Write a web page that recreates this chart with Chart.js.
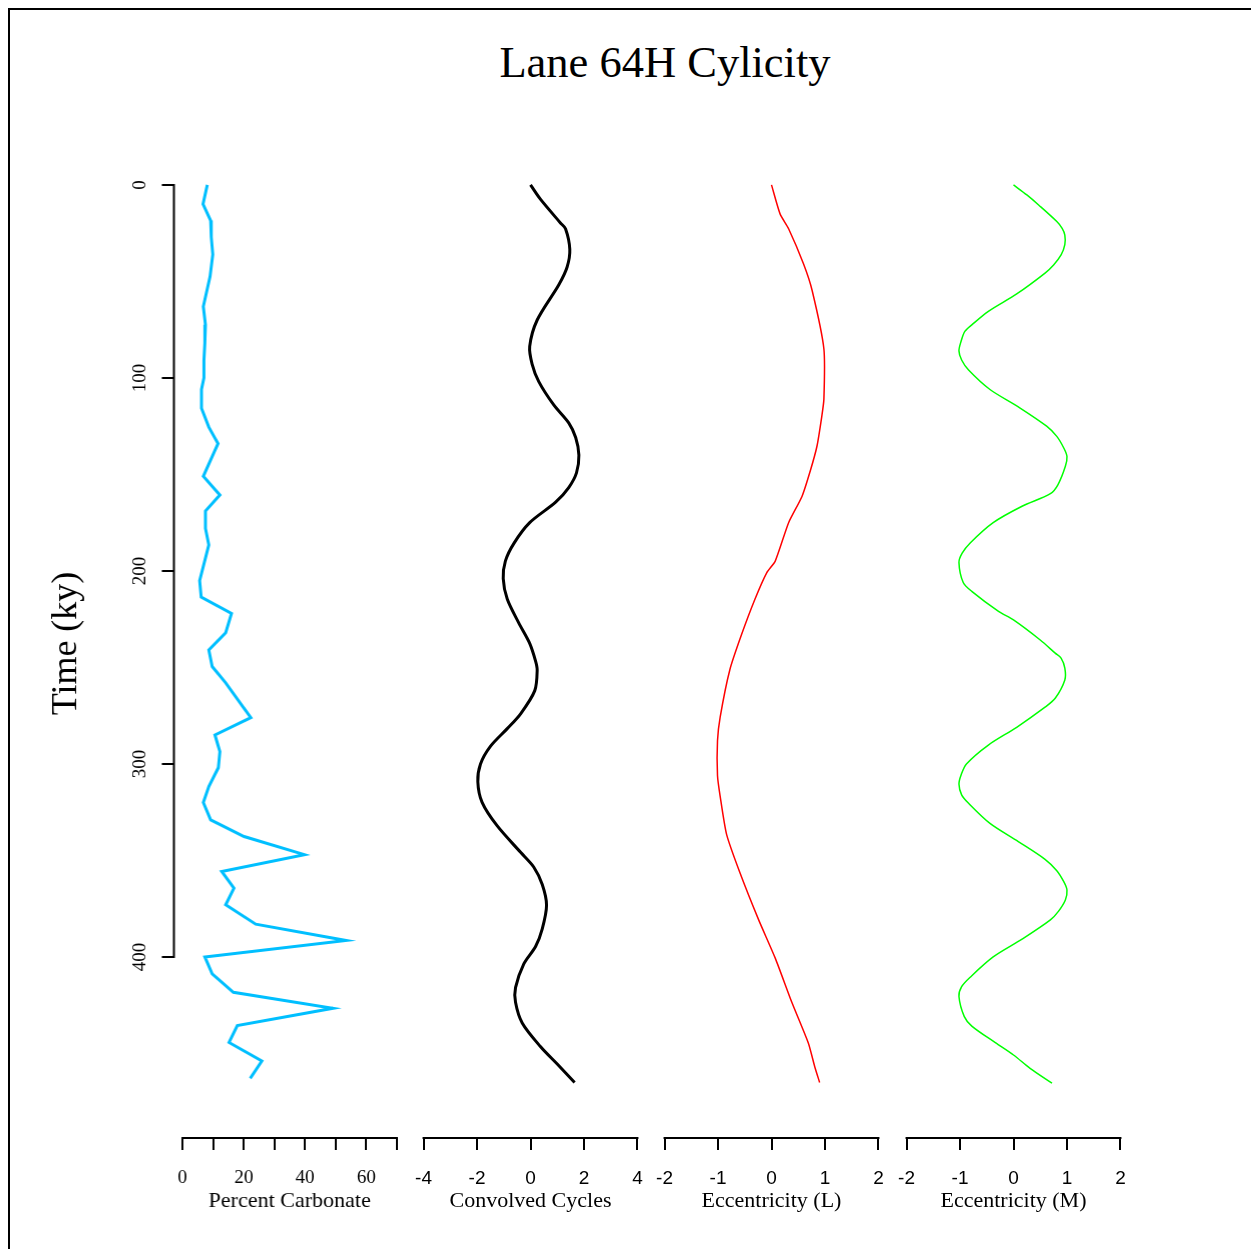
<!DOCTYPE html>
<html>
<head>
<meta charset="utf-8">
<script src="https://cdn.jsdelivr.net/npm/chart.js@4.4.1/dist/chart.umd.min.js"></script>
<style>
  body { margin: 0; background: #fff; width: 1251px; height: 1249px; overflow: hidden; position: relative; }
  .frame { position: absolute; left: 8px; top: 8px; width: 1300px; height: 1300px; border: 2px solid #000; }
  .title { position: absolute; left: 0; top: 40px; width: 1330px; text-align: center; font: 44.5px/44.5px "Liberation Serif"; color: #000; }
  .panel { position: absolute; top: 99px; height: 1150px; }
</style>
</head>
<body>
<div class="frame"></div>
<div class="title">Lane 64H Cylicity</div>
<div class="panel" style="left:0px;width:434.5px"><canvas id="carb"></canvas></div>
<div class="panel" style="left:384.5px;width:291px"><canvas id="conv"></canvas></div>
<div class="panel" style="left:626px;width:291px"><canvas id="eccL"></canvas></div>
<div class="panel" style="left:867.5px;width:291px"><canvas id="eccM"></canvas></div>
<script>
// tick labels
const timeTicks = [0, 100, 200, 300, 400];
const carbTicks = [0, 10, 20, 30, 40, 50, 60, 70];
const convTicks = [-4, -2, 0, 2, 4];
const eccTicks = [-2, -1, 0, 1, 2];

// Percent carbonate
const carbTime = [0, 10, 18.5, 27, 36, 47.5, 63, 72.5, 82, 91, 100, 106, 115.7, 125.5, 134, 151, 160.6, 169, 178, 186.5,
  205, 213.6, 222, 232, 241, 249.5, 258, 276, 285, 293.6, 302, 311.7, 320, 329, 337.6, 347, 355.7, 364.4, 373, 383,
  391.5, 400, 408.8, 418.3, 426.6, 435.5, 444.3, 453.9, 462.9];
const carbPct = [8.1, 6.7, 9.2, 9.4, 9.9, 9.0, 6.8, 7.5, 7.3, 7.0, 7.0, 6.2, 6.2, 8.6, 11.6, 6.8, 12.2, 7.5, 7.5, 8.6,
  5.6, 6.1, 16.0, 14.1, 8.6, 9.7, 14.1, 22.3, 10.6, 12.2, 11.7, 8.6, 6.8, 9.2, 20.1, 39.8, 12.8, 16.8, 14.1, 23.9,
  53.4, 7.3, 9.7, 16.6, 49.1, 17.9, 15.2, 25.9, 22.1];

// Convolved cycles
const convTime = [0, 7.4, 19.7, 22.7, 33.4, 42.5, 51.7, 70, 83.7, 92.8, 101.9, 114, 123.3, 130.9, 140, 149.2, 156.8,
  164.4, 175, 185.7, 194.9, 204, 214.6, 226.9, 237.5, 246.7, 251.3, 262, 274, 281.7, 290.9, 300, 309.2, 319.9, 332,
  345.8, 353.4, 362.5, 373.2, 385.4, 394.6, 403.6, 415.9, 423.5, 434.2, 446.4, 455.5, 465];
const convVal = [0, 0.37, 1.12, 1.31, 1.47, 1.37, 1.06, 0.25, -0.03, 0.06, 0.31, 0.87, 1.43, 1.69, 1.81, 1.72, 1.43,
  0.94, -0.03, -0.62, -0.94, -1.02, -0.87, -0.44, -0.03, 0.19, 0.25, 0.16, -0.37, -0.87, -1.5, -1.87, -1.97, -1.81, -1.25,
  -0.37, 0.12, 0.44, 0.6, 0.44, 0.19, -0.25, -0.56, -0.56, -0.31, 0.37, 1.0, 1.65];

// Eccentricity (L)
const eccLTime = [0, 15, 22.7, 41, 54.7, 85, 111, 120, 135.4, 147.7, 161.4, 175, 194.9, 201, 214.7, 233, 251.3, 275.7,
  288, 306, 316.8, 336.5, 356.4, 380.8, 400.6, 423.5, 444.7, 457, 465];
const eccLVal = [0, 0.16, 0.32, 0.6, 0.76, 0.98, 0.98, 0.94, 0.85, 0.73, 0.57, 0.32, 0.07, -0.09, -0.31, -0.56, -0.78,
  -0.96, -1.01, -1.01, -0.96, -0.84, -0.59, -0.24, 0.07, 0.38, 0.69, 0.81, 0.9];

// Eccentricity (M)
const eccMTime = [0, 5.2, 10.4, 19, 22.5, 26, 31, 36.3, 41.5, 45.7, 56.5, 65.5, 72.5, 75.9, 81, 86, 90.7, 95.9, 106,
  115, 125, 130.3, 136.3, 140.7, 145.8, 155.4, 160, 166.5, 175, 185.5, 190.8, 195.6, 206, 210.6, 221, 225.4, 235.8,
  242.6, 245.2, 250.4, 256.5, 266, 270.6, 281, 290.2, 300, 305.7, 310.4, 316, 320.4, 330.8, 340.2, 349.4, 355.3, 361,
  365.3, 370.5, 376.4, 380.8, 390.8, 400, 410.5, 415.4, 420.5, 430.9, 435.8, 444.4, 450.8, 457.7, 465.4];
const eccMVal = [0, 0.25, 0.47, 0.81, 0.91, 0.96, 0.96, 0.89, 0.75, 0.59, 0.06, -0.47, -0.78, -0.91, -0.98, -1.02,
  -0.97, -0.84, -0.44, 0.09, 0.62, 0.81, 0.94, 1.0, 0.97, 0.83, 0.69, 0.16, -0.38, -0.81, -0.96, -1.02, -0.94, -0.78,
  -0.28, 0, 0.5, 0.78, 0.89, 0.96, 0.96, 0.78, 0.59, 0.06, -0.47, -0.88, -0.98, -1.02, -0.97, -0.84, -0.44, 0.09, 0.59,
  0.81, 0.94, 1.0, 0.97, 0.84, 0.69, 0.16, -0.38, -0.81, -0.97, -1.02, -0.92, -0.78, -0.34, 0, 0.31, 0.72];

const SERIF = "Liberation Serif";
const SANS = "Liberation Sans";

// R style axis lines: only span from first to last tick
const rAxisLines = {
  id: "rAxisLines",
  afterDraw(chart) {
    const ctx = chart.ctx;
    const area = chart.chartArea;
    ctx.save();
    ctx.strokeStyle = "#000";
    ctx.lineWidth = 2;
    const xs = chart.scales.x;
    const xt = xs.ticks;
    ctx.beginPath();
    ctx.moveTo(xs.getPixelForValue(xt[0].value) - 1, area.bottom);
    ctx.lineTo(xs.getPixelForValue(xt[xt.length - 1].value) + 1, area.bottom);
    ctx.stroke();
    const ys = chart.scales.y;
    if (ys.options.display) {
      const yt = ys.ticks;
      ctx.beginPath();
      ctx.moveTo(area.left, ys.getPixelForValue(yt[0].value) - 1);
      ctx.lineTo(area.left, ys.getPixelForValue(yt[yt.length - 1].value) + 1);
      ctx.stroke();
    }
    ctx.restore();
  }
};

function makePanel(id, times, vals, color, lineWidth, smooth, xTicks, xLabel, tickFamily, labelEvery, showY) {
  const lo = xTicks[0];
  const hi = xTicks[xTicks.length - 1];
  const ext = (hi - lo) * 0.04;
  return new Chart(document.getElementById(id), {
    type: "scatter",
    data: {
      datasets: [{
        data: vals.map((v, i) => ({ x: v, y: times[i] })),
        showLine: true,
        borderColor: color,
        borderWidth: lineWidth,
        pointRadius: 0,
        tension: smooth
      }]
    },
    options: {
      responsive: true,
      maintainAspectRatio: false,
      animation: false,
      layout: { padding: { left: showY ? 0 : 30, right: 30, top: 50, bottom: 0 } },
      plugins: { legend: { display: false }, tooltip: { enabled: false } },
      scales: {
        x: {
          type: "linear",
          position: "bottom",
          min: lo - ext,
          max: hi + ext,
          afterBuildTicks: s => { s.ticks = xTicks.map(v => ({ value: v })); },
          afterFit: s => { s.height = 111; },
          border: { display: false },
          grid: { drawOnChartArea: false, drawTicks: true, tickLength: 12, color: "#000", lineWidth: 2 },
          ticks: {
            autoSkip: false,
            maxRotation: 0,
            padding: 17,
            color: "#000",
            font: { family: tickFamily, size: 19 },
            callback: v => (labelEvery && v % labelEvery !== 0) ? "" : String(v)
          },
          title: {
            display: true,
            text: xLabel,
            color: "#000",
            font: { family: SERIF, size: 22 },
            padding: { top: 0, bottom: 35 }
          }
        },
        y: {
          type: "linear",
          reverse: true,
          min: -18.6,
          max: 493.8,
          display: showY,
          afterBuildTicks: s => { s.ticks = timeTicks.map(v => ({ value: v })); },
          afterFit: s => { s.width = showY ? 173.5 : 0; },
          border: { display: false },
          grid: { drawOnChartArea: false, drawTicks: true, tickLength: 12, color: "#000", lineWidth: 2 },
          ticks: {
            autoSkip: false,
            minRotation: 90,
            maxRotation: 90,
            crossAlign: "center",
            padding: 7,
            color: "#000",
            font: { family: SERIF, size: 19 }
          },
          title: {
            display: true,
            text: "Time (ky)",
            color: "#000",
            font: { family: SERIF, size: 36 },
            padding: { top: 45, bottom: 0 }
          }
        }
      }
    },
    plugins: [rAxisLines]
  });
}

makePanel("carb", carbTime, carbPct, "#00BFFF", 3, 0, carbTicks, "Percent Carbonate", SERIF, 20, true);
makePanel("conv", convTime, convVal, "#000000", 3, 0.3, convTicks, "Convolved Cycles", SANS, 0, false);
makePanel("eccL", eccLTime, eccLVal, "#FF0000", 1.5, 0.2, eccTicks, "Eccentricity (L)", SANS, 0, false);
makePanel("eccM", eccMTime, eccMVal, "#00FF00", 1.5, 0.3, eccTicks, "Eccentricity (M)", SANS, 0, false);
</script>
</body>
</html>
